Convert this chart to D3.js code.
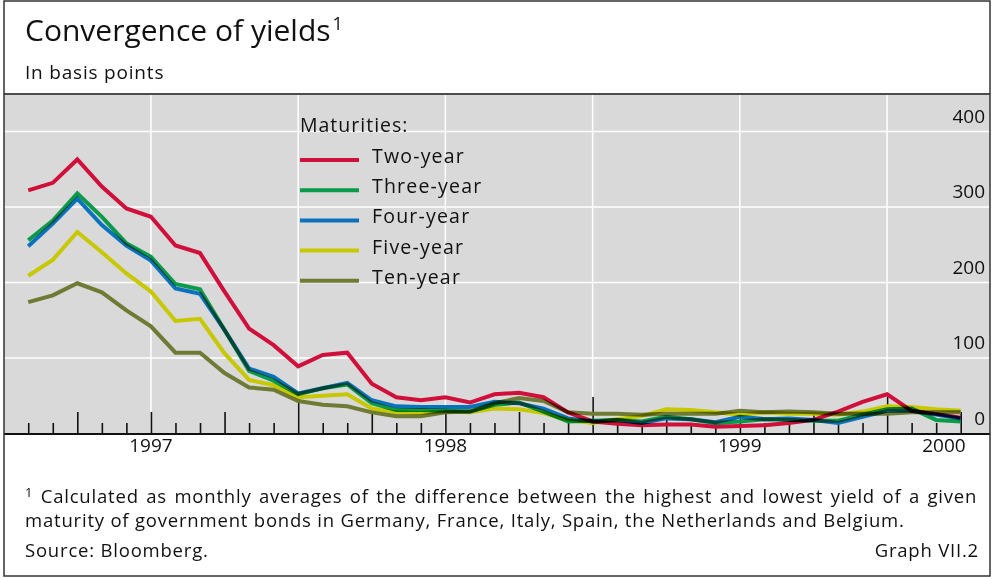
<!DOCTYPE html>
<html>
<head>
<meta charset="utf-8">
<script src="https://cdn.jsdelivr.net/npm/d3@7"></script>
<style>
  body { margin: 0; background: #fff; }
  text { font-family: "Open Sans", Lato, sans-serif; fill: #111; }
</style>
</head>
<body>
<div id="chart"></div>
<script>
const width = 993;
const height = 579;
const plot = {left: 4, right: 990, top: 95, bottom: 434};

// monthly averages, Jan 1997 .. Mar 2000 (plotted at month end)
const months = [
    "1997-01", "1997-02", "1997-03", "1997-04", "1997-05", "1997-06",
    "1997-07", "1997-08", "1997-09", "1997-10", "1997-11", "1997-12",
    "1998-01", "1998-02", "1998-03", "1998-04", "1998-05", "1998-06",
    "1998-07", "1998-08", "1998-09", "1998-10", "1998-11", "1998-12",
    "1999-01", "1999-02", "1999-03", "1999-04", "1999-05", "1999-06",
    "1999-07", "1999-08", "1999-09", "1999-10", "1999-11", "1999-12",
    "2000-01", "2000-02", "2000-03"
];
const twoYear   = [322, 332, 363, 327, 298, 287, 249, 239, 188, 139, 117, 89, 104, 107, 66, 48, 44, 48, 41, 52, 54, 48, 28, 16, 13, 11, 12, 12, 9, 10, 11, 14, 18, 29, 42, 52, 30, 26, 21];
const threeYear = [256, 282, 318, 287, 252, 234, 198, 191, 137, 83, 70, 52, 60, 65, 40, 31, 31, 30, 29, 38, 41, 29, 16, 17, 18, 16, 22, 19, 14, 16, 19, 18, 17, 17, 25, 32, 33, 18, 16];
const fourYear  = [248, 278, 311, 276, 249, 229, 192, 185, 137, 86, 75, 53, 60, 67, 44, 36, 35, 35, 35, 42, 40, 33, 20, 16, 18, 14, 20, 19, 15, 22, 19, 20, 18, 14, 22, 30, 30, 25, 20];
const fiveYear  = [209, 230, 267, 240, 212, 188, 149, 152, 106, 71, 64, 48, 50, 52, 33, 28, 27, 29, 28, 33, 32, 27, 18, 14, 19, 23, 32, 31, 28, 25, 28, 26, 26, 25, 29, 36, 35, 32, 30];
const tenYear   = [174, 183, 199, 187, 163, 142, 107, 107, 80, 61, 58, 43, 38, 36, 28, 23, 23, 28, 29, 40, 47, 43, 28, 26, 26, 25, 26, 26, 26, 30, 28, 29, 28, 26, 26, 26, 28, 28, 28];

const seriesNames = ["Two-year", "Three-year", "Four-year", "Five-year", "Ten-year"];
const seriesColors = ["#d0103a", "#0a9a4a", "#0a72bd", "#c8c800", "#6f7a34"];
const seriesValues = [twoYear, threeYear, fourYear, fiveYear, tenYear];

const yTicks = [0, 100, 200, 300, 400];
const yearLabels = ["1997", "1998", "1999", "2000"];

const svg = d3.select("#chart").append("svg")
    .attr("width", width)
    .attr("height", height);

// month index: 0 = 1 Jan 1997, 39 = 1 Apr 2000
const x = d3.scaleLinear()
    .domain([0, months.length])
    .range([3.7, 960.7]);

const y = d3.scaleLinear()
    .domain([0, 400])
    .range([433.5, 131.5]);

// background
svg.append("rect")
    .attr("x", plot.left).attr("y", plot.top)
    .attr("width", plot.right - plot.left)
    .attr("height", plot.bottom - plot.top)
    .attr("fill", "#d9d9d9");

// grid
svg.append("g")
    .selectAll("line")
    .data(yTicks.slice(1))
    .join("line")
    .attr("x1", plot.left).attr("x2", plot.right)
    .attr("y1", d => y(d)).attr("y2", d => y(d))
    .attr("stroke", "#fff")
    .attr("stroke-width", 1.5);

svg.append("g")
    .selectAll("line")
    .data([6, 12, 18, 24, 30, 36])
    .join("line")
    .attr("x1", d => x(d)).attr("x2", d => x(d))
    .attr("y1", plot.top).attr("y2", plot.bottom)
    .attr("stroke", "#fff")
    .attr("stroke-width", 1.5);

// month / quarter / year ticks
const tickSets = [
    {values: d3.range(0, months.length + 1).filter(m => m % 3 !== 0), size: 11},
    {values: d3.range(0, months.length + 1).filter(m => m % 3 === 0 && m % 12 !== 0), size: 22},
    {values: d3.range(12, months.length + 1, 12), size: 37}
];
tickSets.forEach(t => {
    svg.append("g")
        .attr("transform", `translate(0,${plot.bottom})`)
        .call(d3.axisTop(x).tickValues(t.values).tickSize(t.size).tickFormat(""))
        .call(g => g.select(".domain").remove())
        .call(g => g.selectAll("line").attr("stroke", "#111").attr("stroke-width", 1.6));
});

// series lines
const line = d3.line()
    .x((d, i) => x(i + 1))
    .y(d => y(d));

const lines = svg.append("g").style("isolation", "isolate");
seriesValues.slice().reverse().forEach((vals, k) => {
    const i = seriesValues.length - 1 - k;
    lines.append("path")
        .datum(vals)
        .attr("fill", "none")
        .attr("stroke", seriesColors[i])
        .attr("stroke-width", 4)
        .style("mix-blend-mode", "multiply")
        .attr("d", line);
});

// axis line
svg.append("line")
    .attr("x1", plot.left).attr("x2", plot.right)
    .attr("y1", plot.bottom).attr("y2", plot.bottom)
    .attr("stroke", "#111")
    .attr("stroke-width", 2);

// right labels
svg.append("g")
    .selectAll("text")
    .data(yTicks)
    .join("text")
    .attr("x", 985)
    .attr("y", d => y(d) - 9)
    .attr("text-anchor", "end")
    .attr("font-size", "19px")
    .text(d => d);

// year labels
svg.append("g")
    .selectAll("text")
    .data(yearLabels)
    .join("text")
    .attr("x", (d, i) => i < 3 ? x(6 + i * 12) : x(months.length) + 5)
    .attr("y", 452)
    .attr("text-anchor", (d, i) => i < 3 ? "middle" : "end")
    .attr("font-size", "19px")
    .text(d => d);

// legend
const legend = svg.append("g").attr("transform", "translate(300,0)");
legend.append("text")
    .attr("x", 0).attr("y", 132)
    .attr("font-size", "19.5px")
    .attr("letter-spacing", "1px")
    .text("Maturities:");
seriesNames.forEach((name, i) => {
    const ly = 160 + i * 30.2;
    legend.append("line")
        .attr("x1", 0).attr("x2", 59)
        .attr("y1", ly).attr("y2", ly)
        .attr("stroke", seriesColors[i])
        .attr("stroke-width", 4);
    legend.append("text")
        .attr("x", 72).attr("y", ly + 3)
        .attr("font-size", "19.5px")
        .attr("letter-spacing", "1.2px")
        .text(name);
});

// header
const title = svg.append("text")
    .attr("x", 25).attr("y", 41)
    .attr("font-size", "30px");
title.append("tspan").text("Convergence of yields");
title.append("tspan").attr("font-size", "18px").attr("dy", -11).attr("dx", 2).text("1");

svg.append("text")
    .attr("x", 25).attr("y", 79)
    .attr("font-size", "19px")
    .attr("letter-spacing", "0.8px")
    .text("In basis points");

svg.append("line")
    .attr("x1", 4).attr("x2", 990)
    .attr("y1", 94).attr("y2", 94)
    .attr("stroke", "#111")
    .attr("stroke-width", 1.5);

// footnote
const noteSize = "18.5px";
const noteSpacing = "0.8px";
const note1 = svg.append("text")
    .attr("x", 25).attr("y", 503)
    .attr("font-size", noteSize)
    .attr("letter-spacing", noteSpacing);
note1.append("tspan").attr("font-size", "13px").attr("dy", -6).text("1");
note1.append("tspan").attr("dy", 6).text(" Calculated as monthly averages of the difference between the highest and lowest yield of a given");
// justify first line
const len = note1.node().getComputedTextLength();
note1.attr("word-spacing", Math.max(0, (979 - 25 - len) / 17));

svg.append("text")
    .attr("x", 25).attr("y", 527)
    .attr("font-size", noteSize)
    .attr("letter-spacing", noteSpacing)
    .text("maturity of government bonds in Germany, France, Italy, Spain, the Netherlands and Belgium.");

svg.append("text")
    .attr("x", 25).attr("y", 557)
    .attr("font-size", noteSize)
    .attr("letter-spacing", noteSpacing)
    .text("Source: Bloomberg.");

svg.append("text")
    .attr("x", 979).attr("y", 557)
    .attr("text-anchor", "end")
    .attr("font-size", noteSize)
    .attr("letter-spacing", noteSpacing)
    .text("Graph VII.2");

// frame
svg.append("rect")
    .attr("x", 4).attr("y", 1)
    .attr("width", 986).attr("height", 575)
    .attr("fill", "none")
    .attr("stroke", "#333")
    .attr("stroke-width", 1.5);
</script>
</body>
</html>
